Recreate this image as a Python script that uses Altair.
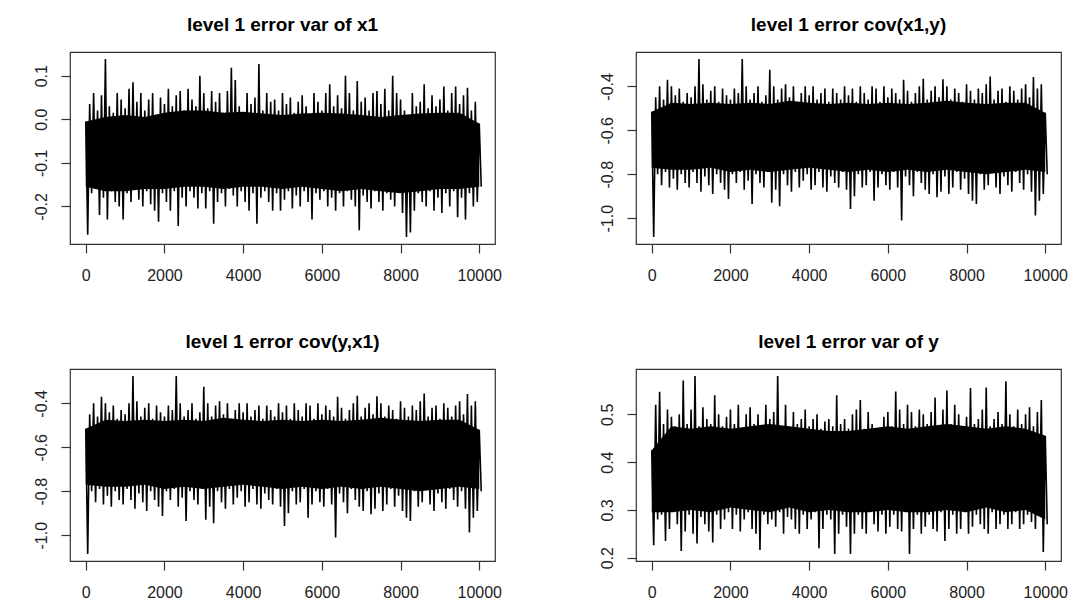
import altair as alt
import pandas as pd

# iteration positions at which the trace envelope was read (every 100 draws)
ITER = list(range(0, 10001, 100))
# iteration positions at which the solid core band was read (every 500 draws)
CORE_ITER = list(range(0, 10001, 500))
X_TICKS = [0, 2000, 4000, 6000, 8000, 10000]

TITLES = ["level 1 error var of x1", "level 1 error cov(x1,y)",
          "level 1 error cov(y,x1)", "level 1 error var of y"]

# ---- panel: var of x1 ----
hi_vx1 = [-0.005, 0.035, 0.06, 0.02, 0.055, 0.138, 0.03, 0.015, 0.06, 0.045,
          0.025, 0.07, 0.085, 0.04, 0.06, 0.02, 0.045, 0.06, 0.01, 0.05,
          0.035, 0.07, 0.03, 0.055, 0.065, 0.02, 0.07, 0.045, 0.03, 0.10,
          0.06, 0.025, 0.065, 0.04, 0.06, 0.015, 0.065, 0.118, 0.09, 0.03,
          0.015, 0.06, 0.035, 0.05, 0.127, 0.02, 0.06, 0.04, 0.045, 0.02,
          0.06, 0.035, 0.05, 0.015, 0.04, 0.055, 0.03, 0.01, 0.06, 0.04,
          0.02, 0.06, 0.08, 0.03, 0.055, 0.025, 0.10, 0.06, 0.02, 0.088,
          0.04, 0.05, 0.02, 0.06, 0.065, 0.035, 0.07, 0.02, 0.10, 0.06,
          0.045, 0.02, 0.0, 0.06, 0.03, 0.04, 0.08, 0.025, 0.055, 0.03,
          0.045, 0.075, 0.02, 0.06, 0.075, 0.035, 0.055, 0.072, 0.02, 0.04,
          -0.01]
lo_vx1 = [-0.265, -0.17, -0.16, -0.22, -0.18, -0.23, -0.165, -0.19, -0.20, -0.23,
          -0.17, -0.19, -0.16, -0.185, -0.20, -0.165, -0.195, -0.21, -0.235, -0.17,
          -0.19, -0.21, -0.165, -0.245, -0.18, -0.20, -0.165, -0.18, -0.205, -0.17,
          -0.205, -0.165, -0.24, -0.19, -0.17, -0.20, -0.16, -0.175, -0.20, -0.165,
          -0.19, -0.21, -0.17, -0.24, -0.18, -0.165, -0.19, -0.21, -0.17, -0.21,
          -0.185, -0.165, -0.205, -0.175, -0.20, -0.165, -0.19, -0.23, -0.17, -0.185,
          -0.165, -0.20, -0.18, -0.21, -0.17, -0.20, -0.165, -0.185, -0.20, -0.255,
          -0.175, -0.19, -0.205, -0.165, -0.19, -0.21, -0.17, -0.185, -0.20, -0.165,
          -0.215, -0.27, -0.26, -0.21, -0.17, -0.19, -0.20, -0.165, -0.21, -0.18,
          -0.215, -0.17, -0.20, -0.165, -0.225, -0.18, -0.23, -0.17, -0.20, -0.19,
          -0.155]
core_hi_vx1 = [-0.005, 0.005, 0.01, 0.005, 0.015, 0.02, 0.02, 0.015, 0.017, 0.013, 0.01,
               0.013, 0.015, 0.013, 0.01, 0.005, 0.01, 0.013, 0.015, 0.015, -0.01]
core_lo_vx1 = [-0.155, -0.165, -0.165, -0.16, -0.16, -0.155, -0.155, -0.16, -0.155, -0.155, -0.16,
               -0.155, -0.16, -0.165, -0.16, -0.165, -0.17, -0.165, -0.16, -0.16, -0.155]

# ---- panels: cov(x1,y) and cov(y,x1) (identical traces) ----
hi_cov = [-0.515, -0.45, -0.40, -0.46, -0.37, -0.40, -0.44, -0.41, -0.47, -0.43,
          -0.45, -0.40, -0.276, -0.39, -0.46, -0.42, -0.40, -0.47, -0.41, -0.44,
          -0.46, -0.41, -0.43, -0.276, -0.40, -0.46, -0.43, -0.40, -0.47, -0.44,
          -0.325, -0.40, -0.46, -0.41, -0.39, -0.45, -0.40, -0.47, -0.43, -0.40,
          -0.44, -0.40, -0.46, -0.43, -0.41, -0.47, -0.41, -0.43, -0.46, -0.40,
          -0.44, -0.41, -0.47, -0.40, -0.43, -0.46, -0.40, -0.41, -0.47, -0.40,
          -0.45, -0.41, -0.43, -0.46, -0.37, -0.42, -0.47, -0.43, -0.40, -0.365,
          -0.46, -0.42, -0.40, -0.45, -0.368, -0.40, -0.46, -0.41, -0.43, -0.47,
          -0.39, -0.42, -0.46, -0.41, -0.43, -0.39, -0.355, -0.46, -0.42, -0.41,
          -0.47, -0.40, -0.42, -0.46, -0.41, -0.39, -0.45, -0.358, -0.41, -0.39,
          -0.52]
lo_cov = [-1.085, -0.80, -0.85, -0.79, -0.86, -0.82, -0.87, -0.80, -0.84, -0.86,
          -0.79, -0.84, -0.88, -0.81, -0.85, -0.89, -0.80, -0.84, -0.87, -0.912,
          -0.80, -0.84, -0.79, -0.87, -0.83, -0.935, -0.80, -0.84, -0.86, -0.79,
          -0.93, -0.87, -0.945, -0.80, -0.85, -0.88, -0.79, -0.86, -0.83, -0.80,
          -0.87, -0.85, -0.79, -0.86, -0.88, -0.81, -0.84, -0.86, -0.79, -0.87,
          -0.958, -0.90, -0.80, -0.86, -0.85, -0.79, -0.92, -0.86, -0.80, -0.85,
          -0.87, -0.79, -0.86, -1.01, -0.81, -0.85, -0.90, -0.79, -0.84, -0.87,
          -0.89, -0.80, -0.905, -0.88, -0.81, -0.89, -0.86, -0.79, -0.87, -0.82,
          -0.89, -0.92, -0.935, -0.80, -0.87, -0.85, -0.79, -0.86, -0.89, -0.81,
          -0.85, -0.88, -0.79, -0.84, -0.87, -0.80, -0.88, -0.988, -0.92, -0.89,
          -0.80]
core_hi_cov = [-0.515, -0.475, -0.48, -0.475, -0.48, -0.475, -0.48, -0.465, -0.475, -0.48, -0.475,
               -0.48, -0.475, -0.48, -0.475, -0.465, -0.475, -0.48, -0.475, -0.475, -0.52]
core_lo_cov = [-0.77, -0.78, -0.78, -0.77, -0.79, -0.78, -0.79, -0.78, -0.77, -0.78, -0.79,
               -0.78, -0.79, -0.78, -0.79, -0.78, -0.79, -0.80, -0.79, -0.78, -0.79]

# ---- panel: var of y ----
hi_vy = [0.425, 0.52, 0.547, 0.48, 0.51, 0.495, 0.475, 0.50, 0.571, 0.48,
         0.51, 0.58, 0.475, 0.515, 0.49, 0.48, 0.54, 0.50, 0.475, 0.495,
         0.51, 0.48, 0.52, 0.47, 0.50, 0.515, 0.48, 0.50, 0.475, 0.52,
         0.49, 0.505, 0.58, 0.475, 0.52, 0.45, 0.505, 0.48, 0.49, 0.51,
         0.475, 0.49, 0.50, 0.47, 0.485, 0.49, 0.475, 0.54, 0.48, 0.49,
         0.47, 0.50, 0.51, 0.53, 0.47, 0.505, 0.48, 0.47, 0.465, 0.495,
         0.505, 0.475, 0.548, 0.51, 0.48, 0.52, 0.505, 0.475, 0.51, 0.50,
         0.48, 0.505, 0.535, 0.475, 0.51, 0.55, 0.48, 0.52, 0.50, 0.475,
         0.495, 0.555, 0.48, 0.49, 0.51, 0.556, 0.475, 0.49, 0.505, 0.48,
         0.569, 0.50, 0.475, 0.51, 0.48, 0.50, 0.515, 0.475, 0.505, 0.53,
         0.455]
lo_vy = [0.226, 0.28, 0.29, 0.235, 0.26, 0.295, 0.27, 0.214, 0.255, 0.29,
         0.25, 0.23, 0.285, 0.27, 0.255, 0.232, 0.29, 0.26, 0.28, 0.295,
         0.26, 0.29, 0.255, 0.28, 0.295, 0.26, 0.25, 0.216, 0.29, 0.27,
         0.28, 0.265, 0.295, 0.25, 0.285, 0.28, 0.26, 0.25, 0.29, 0.26,
         0.28, 0.295, 0.22, 0.26, 0.29, 0.28, 0.208, 0.25, 0.29, 0.265,
         0.208, 0.25, 0.29, 0.26, 0.25, 0.295, 0.27, 0.255, 0.29, 0.25,
         0.265, 0.29, 0.26, 0.255, 0.295, 0.208, 0.26, 0.29, 0.25, 0.265,
         0.29, 0.26, 0.255, 0.295, 0.235, 0.26, 0.29, 0.25, 0.26, 0.295,
         0.25, 0.265, 0.29, 0.27, 0.26, 0.25, 0.295, 0.26, 0.27, 0.29,
         0.26, 0.27, 0.295, 0.26, 0.27, 0.29, 0.275, 0.26, 0.295, 0.212,
         0.27]
core_hi_vy = [0.425, 0.475, 0.47, 0.475, 0.47, 0.475, 0.48, 0.475, 0.47, 0.465, 0.465,
              0.47, 0.475, 0.47, 0.475, 0.48, 0.475, 0.47, 0.475, 0.47, 0.455]
core_lo_vy = [0.295, 0.295, 0.30, 0.295, 0.305, 0.30, 0.295, 0.305, 0.295, 0.30, 0.295,
              0.295, 0.30, 0.295, 0.295, 0.30, 0.295, 0.305, 0.295, 0.30, 0.28]

Y_TICKS_VX1 = [-0.2, -0.1, 0.0, 0.1]
Y_TICKS_COV = [-1.0, -0.8, -0.6, -0.4]
Y_TICKS_VY = [0.2, 0.3, 0.4, 0.5]

FONT = "Liberation Sans"
W, H = 425, 192
LABEL_EXPR = "datum.value < 0 ? '-' + format(-datum.value, '.1f') : format(datum.value, '.1f')"


def panel(title, hi, lo, chi, clo, yticks):
    # trace drawn as a line that alternates between the read peak and trough
    rows = []
    for it, h, l in zip(ITER, hi, lo):
        rows.append({"iter": it, "v": h})
        rows.append({"iter": it + 50, "v": l})
    df = pd.DataFrame(rows)
    cf = pd.DataFrame({"iter": CORE_ITER, "chi": chi, "clo": clo})
    vmin, vmax = min(lo), max(hi)
    pad = 0.04 * (vmax - vmin)
    yscale = alt.Scale(domain=[vmin - pad, vmax + pad], nice=False, zero=False)
    xscale = alt.Scale(domain=[-400, 10400], nice=False, zero=False)
    xaxis = alt.Axis(values=X_TICKS, format="d", domain=False, grid=False,
                     tickSize=9, labelPadding=14, labelFlush=False)
    yaxis = alt.Axis(values=yticks, labelExpr=LABEL_EXPR, domain=False, grid=False,
                     tickSize=9, labelPadding=15, labelAngle=270,
                     labelAlign="center", labelBaseline="alphabetic")
    core = alt.Chart(cf).mark_area(color="black", opacity=1).encode(
        x=alt.X("iter:Q", scale=xscale, axis=xaxis, title=None),
        y=alt.Y("clo:Q", scale=yscale, axis=yaxis, title=None),
        y2="chi:Q",
    )
    trace = alt.Chart(df).mark_line(color="black", strokeWidth=1.6).encode(
        x=alt.X("iter:Q", scale=xscale, axis=xaxis, title=None),
        y=alt.Y("v:Q", scale=yscale, axis=yaxis, title=None),
        order="iter:Q",
    )
    return alt.layer(core, trace).properties(
        width=W, height=H,
        title=alt.TitleParams(title, font=FONT, fontSize=19, fontWeight="bold",
                              color="black", anchor="middle", offset=2,
                              baseline="alphabetic"),
    )


p1 = panel(TITLES[0], hi_vx1, lo_vx1, core_hi_vx1, core_lo_vx1, Y_TICKS_VX1)
p2 = panel(TITLES[1], hi_cov, lo_cov, core_hi_cov, core_lo_cov, Y_TICKS_COV)
p3 = panel(TITLES[2], hi_cov, lo_cov, core_hi_cov, core_lo_cov, Y_TICKS_COV)
p4 = panel(TITLES[3], hi_vy, lo_vy, core_hi_vy, core_lo_vy, Y_TICKS_VY)

chart = alt.concat(p1, p2, p3, p4, columns=2,
                   spacing={"row": 125, "column": 141}, bounds="flush").properties(
    padding={"left": 32, "top": 15, "right": 5, "bottom": 5},
    background="white",
).configure_view(
    stroke="#333333", strokeWidth=1.2,
).configure_axis(
    labelFont=FONT, labelFontSize=16, labelColor="#222222",
    tickColor="#333333", tickWidth=1.2,
)

chart.save("out.html", embed_options={"renderer": "svg", "actions": False})
